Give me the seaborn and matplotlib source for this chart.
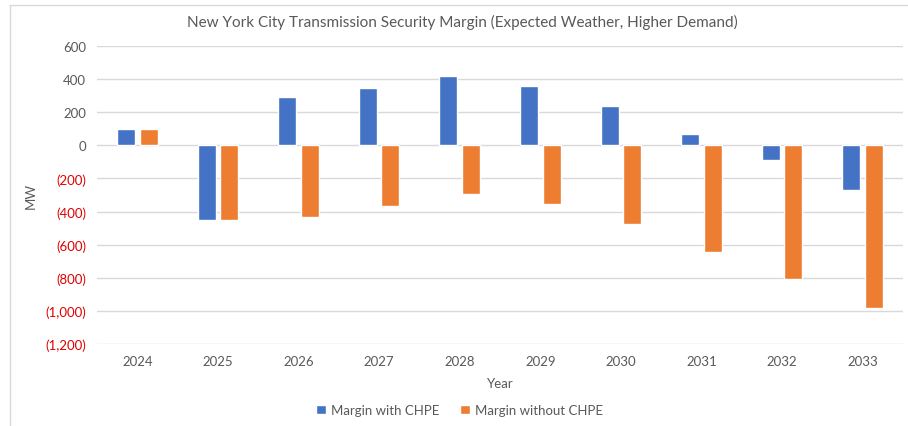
import pandas as pd
import matplotlib.pyplot as plt
import seaborn as sns
from matplotlib.lines import Line2D
from matplotlib.ticker import FuncFormatter

# Values (MW)
years = ["2024", "2025", "2026", "2027", "2028", "2029", "2030", "2031", "2032", "2033"]
margin_with_chpe = [100, -450, 290, 345, 420, 360, 240, 70, -90, -270]
margin_without_chpe = [100, -450, -430, -365, -295, -355, -475, -645, -805, -985]
series_names = ["Margin with CHPE", "Margin without CHPE"]
colors = ["#4472C4", "#ED7D31"]

df = pd.DataFrame({
    "Year": years * 2,
    "MW": margin_with_chpe + margin_without_chpe,
    "Series": [series_names[0]] * len(years) + [series_names[1]] * len(years),
})

sns.set_theme(style="white")
plt.rcParams["font.family"] = ["Lato", "DejaVu Sans"]

fig = plt.figure(figsize=(9.08, 4.27), dpi=100)
ax = fig.add_axes([97 / 908, 1 - 345 / 427, 806 / 908, 298 / 427])

sns.barplot(data=df, x="Year", y="MW", hue="Series", palette=colors,
            width=0.56, gap=0.2, saturation=1, ax=ax, legend=True)

ax.set_ylim(-1200, 600)
ax.set_yticks(range(-1200, 601, 200))
ax.set_xlim(-0.5, len(years) - 0.5)
ax.yaxis.grid(True, color="#D9D9D9", linewidth=1)
ax.set_axisbelow(True)
for s in ax.spines.values():
    s.set_visible(False)


def fmt(v, pos):
    if v < 0:
        return "({:,.0f})".format(-v)
    return "{:,.0f}".format(v)


ax.yaxis.set_major_formatter(FuncFormatter(fmt))
ax.tick_params(axis="both", length=0, labelsize=9.5, colors="#595959", pad=8)
for lab, t in zip(ax.get_yticklabels(), ax.get_yticks()):
    if t < 0:
        lab.set_color("#E00000")

ax.set_xlabel("Year", fontsize=9.5, color="#595959", labelpad=7)
ax.set_ylabel("MW", fontsize=9.5, color="#595959", labelpad=6)
fig.text(462 / 908, 1 - 22 / 427,
         "New York City Transmission Security Margin (Expected Weather, Higher Demand)",
         fontsize=11, color="#595959", ha="center", va="center")

handles, labels = ax.get_legend_handles_labels()
ax.legend(handles, labels, loc="center", bbox_to_anchor=(0.45, -0.222),
          ncol=2, frameon=False, fontsize=9.5, handlelength=0.7, handleheight=0.7,
          columnspacing=1.6, handletextpad=0.4, labelcolor="#595959")

# light chart-area border (top and left, as in the source)
fig.add_artist(Line2D([10 / 908, 10 / 908], [0, 1 - 6 / 427], color="#D9D9D9", lw=1))
fig.add_artist(Line2D([10 / 908, 1], [1 - 6 / 427, 1 - 6 / 427], color="#D9D9D9", lw=1))

fig.savefig("out.png", dpi=100)
